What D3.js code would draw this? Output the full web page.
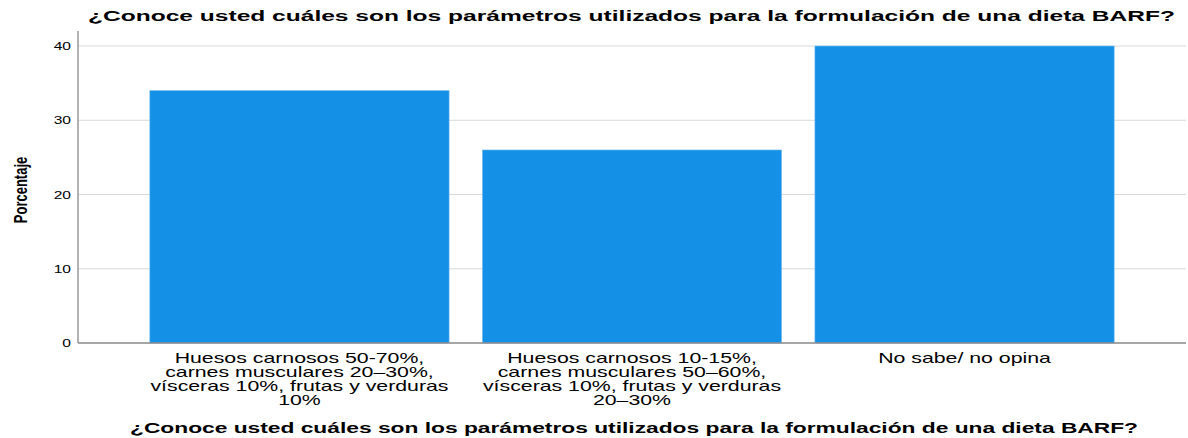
<!DOCTYPE html>
<html>
<head>
<meta charset="utf-8">
<script src="https://cdn.jsdelivr.net/npm/d3@7"></script>
<style>
  body { margin: 0; background: #fff; }
  text { font-family: "Liberation Sans", Arial, sans-serif; fill: #000; }
</style>
</head>
<body>
<svg width="1188" height="438"></svg>
<script>
var title = "¿Conoce usted cuáles son los parámetros utilizados para la formulación de una dieta BARF?";
var categories = ["a", "b", "c"];
var labels = [
  ["Huesos carnosos 50-70%,", "carnes musculares 20\u201330%,", "vísceras 10%, frutas y verduras", "10%"],
  ["Huesos carnosos 10-15%,", "carnes musculares 50\u201360%,", "vísceras 10%, frutas y verduras", "20\u201330%"],
  ["No sabe/ no opina"]
];
var values = [34, 26, 40];
var yTicks = [0, 10, 20, 30, 40];

// the source picture is stretched sideways, text follows that
var sx = 1.42;

var svg = d3.select("svg"),
    margin = {top: 46, right: 2, bottom: 95, left: 78},
    width = +svg.attr("width") - margin.left - margin.right,
    height = +svg.attr("height") - margin.top - margin.bottom;

var g = svg.append("g").attr("transform", "translate(" + margin.left + "," + margin.top + ")");

var x = d3.scaleBand()
    .domain(categories)
    .range([0, width])
    .paddingInner(0.1)
    .paddingOuter(0.216);

var y = d3.scaleLinear()
    .domain([0, 40])
    .range([height, 0]);

// grid
g.selectAll(".grid")
  .data(yTicks.filter(function(d) { return d > 0; }))
  .enter().append("line")
    .attr("x1", 0).attr("x2", width)
    .attr("y1", function(d) { return y(d); })
    .attr("y2", function(d) { return y(d); })
    .attr("stroke", "#d9d9d9")
    .attr("stroke-width", 1);

// bars
g.selectAll(".bar")
  .data(values)
  .enter().append("rect")
    .attr("x", function(d, i) { return x(categories[i]); })
    .attr("width", x.bandwidth())
    .attr("y", function(d) { return y(d); })
    .attr("height", function(d) { return height - y(d); })
    .attr("fill", "#1490e6")
    .attr("stroke", "#7cc0f0")
    .attr("stroke-width", 0.6);

// y axis
var yAxis = g.append("g")
    .call(d3.axisLeft(y).tickValues(yTicks).tickSize(0).tickPadding(0));
yAxis.select(".domain").remove();
yAxis.selectAll(".tick text")
    .attr("x", -7 / sx)
    .attr("transform", "scale(" + sx + ",1)")
    .style("font-size", "11px")
    .attr("fill", "#000");
g.append("line")
    .attr("x1", 0).attr("x2", 0)
    .attr("y1", -15).attr("y2", height)
    .attr("stroke", "#999").attr("stroke-width", 1.5);

// x axis baseline
g.append("line")
    .attr("x1", 0).attr("x2", width)
    .attr("y1", height).attr("y2", height)
    .attr("stroke", "#888").attr("stroke-width", 1.5);

// category labels
var lab = g.selectAll(".xlab")
  .data(labels)
  .enter().append("text")
    .attr("transform", function(d, i) {
      return "translate(" + (x(categories[i]) + x.bandwidth() / 2) + "," + (height + 20) + ") scale(" + sx + ",1)";
    })
    .attr("text-anchor", "middle")
    .style("font-size", "15px");
lab.selectAll("tspan")
  .data(function(d) { return d; })
  .enter().append("tspan")
    .attr("x", 0)
    .attr("dy", function(d, i) { return i ? 14 : 0; })
    .text(function(d) { return d; });

// y label
svg.append("text")
    .attr("transform", "translate(27,190) scale(" + sx + ",1) rotate(-90)")
    .attr("text-anchor", "middle")
    .style("font-size", "13px")
    .style("font-weight", "bold")
    .text("Porcentaje");

// titles
svg.append("text")
    .attr("x", 88).attr("y", 21)
    .attr("textLength", 1087)
    .attr("lengthAdjust", "spacingAndGlyphs")
    .style("font-size", "14px")
    .style("font-weight", "bold")
    .text(title);

svg.append("text")
    .attr("x", 130).attr("y", 433)
    .attr("textLength", 1008)
    .attr("lengthAdjust", "spacingAndGlyphs")
    .style("font-size", "14px")
    .style("font-weight", "bold")
    .text(title);
</script>
</body>
</html>
